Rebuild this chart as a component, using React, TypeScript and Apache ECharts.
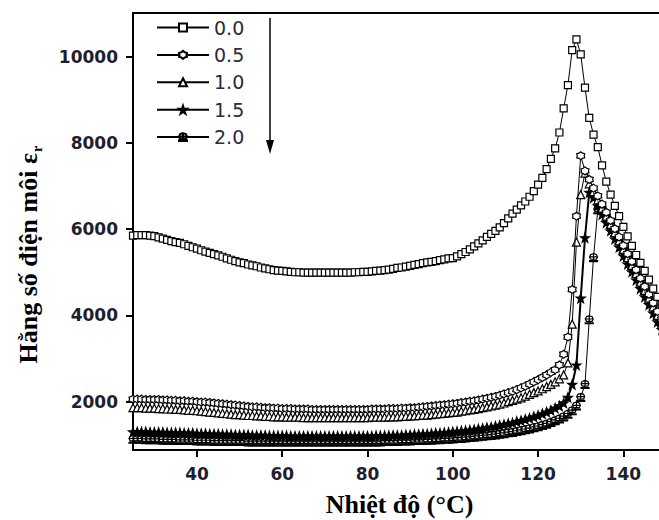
import React, { useEffect, useRef } from "react";
import * as echarts from "echarts";

const temps = [
  25, 26, 27, 28, 29, 30, 31, 32, 33, 34, 35, 36, 37, 38, 39, 40, 41, 42, 43, 44,
  45, 46, 47, 48, 49, 50, 51, 52, 53, 54, 55, 56, 57, 58, 59, 60, 61, 62, 63, 64,
  65, 66, 67, 68, 69, 70, 71, 72, 73, 74, 75, 76, 77, 78, 79, 80, 81, 82, 83, 84,
  85, 86, 87, 88, 89, 90, 91, 92, 93, 94, 95, 96, 97, 98, 99, 100, 101, 102, 103, 104,
  105, 106, 107, 108, 109, 110, 111, 112, 113, 114, 115, 116, 117, 118, 119, 120, 121, 122, 123, 124,
  125, 126, 127, 128, 129, 130, 131, 132, 133, 134, 135, 136, 137, 138, 139, 140, 141, 142, 143, 144,
  145, 146, 147, 148, 149, 150,
];

const seriesNames = ["0.0", "0.5", "1.0", "1.5", "2.0"];

const eps00 = [
  5850, 5860, 5860, 5860, 5850, 5840, 5810, 5780, 5750, 5720,
  5700, 5680, 5650, 5610, 5580, 5550, 5510, 5480, 5450, 5420,
  5390, 5360, 5320, 5290, 5260, 5230, 5210, 5180, 5160, 5140,
  5110, 5090, 5070, 5050, 5040, 5030, 5020, 5010, 5000, 5000,
  4990, 4990, 4990, 4990, 4990, 4990, 4990, 4990, 4990, 4990,
  4990, 4990, 5000, 5000, 5010, 5010, 5020, 5030, 5040, 5050,
  5060, 5080, 5100, 5110, 5130, 5150, 5170, 5190, 5210, 5230,
  5240, 5260, 5280, 5300, 5320, 5330, 5370, 5420, 5470, 5530,
  5600, 5670, 5740, 5820, 5890, 5960, 6040, 6140, 6250, 6360,
  6450, 6550, 6640, 6750, 6880, 7030, 7190, 7390, 7630, 7870,
  8240, 8800, 9340, 10150, 10400, 10050, 9280, 8580, 8190, 7900,
  7480, 7100, 6800, 6540, 6300, 6050, 5830, 5610, 5400, 5220,
  5030, 4830, 4620, 4430, 4250, 4080,
];

const eps05 = [
  2060, 2060, 2060, 2050, 2050, 2050, 2050, 2040, 2040, 2030,
  2030, 2020, 2020, 2010, 2010, 2000, 1990, 1990, 1980, 1970,
  1960, 1950, 1940, 1930, 1920, 1910, 1900, 1890, 1880, 1880,
  1870, 1860, 1860, 1850, 1850, 1840, 1840, 1840, 1830, 1830,
  1830, 1830, 1820, 1820, 1820, 1820, 1820, 1820, 1820, 1820,
  1820, 1820, 1820, 1820, 1820, 1820, 1830, 1830, 1830, 1830,
  1840, 1840, 1840, 1850, 1850, 1860, 1860, 1870, 1880, 1890,
  1900, 1910, 1920, 1930, 1940, 1950, 1960, 1980, 1990, 2010,
  2020, 2040, 2060, 2080, 2100, 2120, 2150, 2180, 2210, 2240,
  2280, 2320, 2360, 2410, 2460, 2510, 2560, 2620, 2680, 2740,
  2850, 3100, 3500, 4600, 6300, 7700, 7350, 7150, 6950, 6770,
  6580, 6390, 6200, 6010, 5820, 5620, 5430, 5250, 5060, 4860,
  4670, 4490, 4290, 4090, 3910, 3720,
];

const eps10 = [
  1860, 1860, 1860, 1850, 1850, 1850, 1840, 1840, 1830, 1830,
  1820, 1820, 1810, 1800, 1800, 1790, 1780, 1770, 1760, 1750,
  1740, 1730, 1720, 1710, 1700, 1700, 1690, 1680, 1680, 1670,
  1670, 1660, 1660, 1650, 1650, 1650, 1640, 1640, 1640, 1640,
  1630, 1630, 1630, 1630, 1630, 1630, 1630, 1630, 1630, 1630,
  1630, 1630, 1630, 1630, 1630, 1630, 1640, 1640, 1640, 1640,
  1650, 1650, 1650, 1660, 1660, 1670, 1670, 1680, 1690, 1690,
  1700, 1710, 1720, 1730, 1740, 1750, 1760, 1780, 1790, 1810,
  1820, 1840, 1860, 1880, 1900, 1920, 1940, 1970, 2000, 2030,
  2060, 2090, 2130, 2170, 2210, 2250, 2300, 2350, 2400, 2460,
  2530, 2620, 2900, 3800, 5700, 6800, 7300, 7050, 6870, 6680,
  6490, 6300, 6110, 5920, 5730, 5530, 5340, 5160, 4970, 4770,
  4580, 4400, 4200, 4000, 3820, 3630,
];

const eps15 = [
  1300, 1300, 1300, 1300, 1290, 1290, 1290, 1290, 1280, 1280,
  1280, 1280, 1270, 1270, 1270, 1260, 1260, 1260, 1250, 1250,
  1250, 1240, 1240, 1240, 1230, 1230, 1230, 1230, 1220, 1220,
  1220, 1220, 1210, 1210, 1210, 1210, 1210, 1200, 1200, 1200,
  1200, 1200, 1200, 1200, 1200, 1200, 1200, 1200, 1200, 1200,
  1200, 1200, 1200, 1200, 1200, 1200, 1200, 1210, 1210, 1210,
  1210, 1220, 1220, 1220, 1230, 1230, 1240, 1240, 1250, 1250,
  1260, 1270, 1270, 1280, 1290, 1300, 1310, 1320, 1330, 1340,
  1350, 1370, 1380, 1400, 1410, 1430, 1450, 1470, 1490, 1510,
  1540, 1560, 1590, 1620, 1650, 1680, 1720, 1760, 1800, 1850,
  1900, 1970, 2100, 2400, 2850, 4400, 5800, 6850, 6730, 6540,
  6340, 6150, 5960, 5770, 5580, 5380, 5190, 5010, 4820, 4620,
  4430, 4250, 4050, 3850, 3670, 3480,
];

const eps20 = [
  1130, 1130, 1130, 1120, 1120, 1120, 1120, 1110, 1110, 1110,
  1110, 1100, 1100, 1100, 1100, 1090, 1090, 1090, 1090, 1080,
  1080, 1080, 1080, 1080, 1080, 1080, 1080, 1070, 1070, 1070,
  1070, 1070, 1070, 1070, 1070, 1070, 1070, 1070, 1070, 1070,
  1070, 1070, 1070, 1070, 1070, 1070, 1070, 1070, 1070, 1070,
  1070, 1070, 1070, 1070, 1070, 1070, 1070, 1070, 1070, 1080,
  1080, 1080, 1080, 1090, 1090, 1090, 1100, 1100, 1100, 1110,
  1110, 1120, 1120, 1130, 1130, 1140, 1150, 1150, 1160, 1170,
  1180, 1190, 1200, 1210, 1220, 1230, 1250, 1260, 1280, 1290,
  1310, 1330, 1350, 1370, 1400, 1420, 1450, 1480, 1520, 1560,
  1600, 1650, 1710, 1790, 1900, 2100, 2400, 3900, 5340, 6450,
  6480, 6300, 6110, 5920, 5730, 5540, 5350, 5170, 4980, 4780,
  4600, 4410, 4220, 4020, 3840, 3650,
];

const xTicks = [40, 60, 80, 100, 120, 140];
const yTicks = [2000, 4000, 6000, 8000, 10000];

const SYM_HEX =
  "path://M10,0 L13.75,3.5 L18.66,5 L17.5,10 L18.66,15 L13.75,16.5 L10,20 L6.25,16.5 L1.34,15 L2.5,10 L1.34,5 L6.25,3.5 Z";
const SYM_STAR =
  "path://M10,0 L12.35,6.76 L19.51,6.91 L13.8,11.24 L15.88,18.09 L10,14 L4.12,18.09 L6.2,11.24 L0.49,6.91 L7.65,6.76 Z";
const SYM_CROWN =
  "path://M10,1 L15,3 L17,8 L15,13 L5,13 L3,8 L5,3 Z M10,1 L10,13 M3,8 L17,8 M3,18 L17,18 L17,16 L3,16 Z";

export default function App() {
  const ref = useRef<HTMLDivElement>(null);

  useEffect(() => {
    if (!ref.current) return;
    const chart = echarts.init(ref.current, null, { renderer: "svg" });

    const allData = [eps00, eps05, eps10, eps15, eps20];
    const symbols = ["rect", SYM_HEX, "triangle", SYM_STAR, SYM_CROWN];
    const sizes = [7, 8, 8, 9, 8];
    const fills = ["#fff", "#fff", "#fff", "#000", "#fff"];
    const widths = [1, 1, 1, 2, 1];

    const series = seriesNames.map((name, k) => ({
      name,
      type: "line",
      data: temps.map((t, i) => [t, allData[k][i]]),
      symbol: symbols[k],
      symbolSize: sizes[k],
      showAllSymbol: true,
      lineStyle: { color: "#000", width: widths[k] },
      itemStyle: { color: fills[k], borderColor: "#000", borderWidth: 1.2 },
      z: 10 - k,
    }));

    const labelFont = {
      fontFamily: "DejaVu Sans",
      fontWeight: "bold",
      fontSize: 17,
      color: "#1e1e2e",
    };

    chart.setOption({
      animation: false,
      grid: {
        left: 133,
        top: 13,
        width: 533,
        height: 437,
        show: true,
        borderColor: "#000",
        borderWidth: 2,
        backgroundColor: "transparent",
        outerBoundsMode: "none",
      },
      legend: {
        orient: "vertical",
        left: 151,
        top: 13,
        itemWidth: 52,
        itemHeight: 10,
        itemGap: 8.4,
        data: seriesNames,
        textStyle: { fontFamily: "DejaVu Sans", fontSize: 19, color: "#2a2a3a" },
      },
      xAxis: {
        type: "value",
        min: 25,
        max: 150,
        splitLine: { show: false },
        axisLine: { show: true, lineStyle: { color: "#000", width: 2 } },
        axisTick: {
          show: true,
          length: 7,
          lineStyle: { color: "#000", width: 2 },
          customValues: xTicks,
        },
        axisLabel: { ...labelFont, margin: 15, customValues: xTicks },
        name: "Nhiệt độ (°C)",
        nameLocation: "middle",
        nameGap: 41,
        nameTextStyle: {
          fontFamily: "Liberation Serif",
          fontWeight: "bold",
          fontSize: 26,
          color: "#000",
        },
      },
      yAxis: {
        type: "value",
        min: 880,
        max: 11010,
        splitLine: { show: false },
        axisLine: { show: true, lineStyle: { color: "#000", width: 2 } },
        axisTick: {
          show: true,
          length: 7,
          lineStyle: { color: "#000", width: 2 },
          customValues: yTicks,
        },
        axisLabel: {
          ...labelFont,
          margin: 15,
          customValues: yTicks,
          formatter: (v: number) => String(Math.round(v)),
        },
      },
      graphic: [
        {
          type: "line",
          shape: { x1: 270, y1: 18, x2: 270, y2: 146 },
          style: { stroke: "#000", lineWidth: 1.5 },
        },
        {
          type: "polygon",
          shape: { points: [[266, 140], [274, 140], [270, 154]] },
          style: { fill: "#000" },
        },
        {
          type: "text",
          x: 28,
          y: 153,
          rotation: Math.PI / 2,
          style: {
            text: "Hằng số điện môi ε",
            font: "bold 26px 'Liberation Serif'",
            fill: "#000",
            align: "right",
            verticalAlign: "middle",
          },
        },
        {
          type: "text",
          x: 37,
          y: 152,
          rotation: Math.PI / 2,
          style: {
            text: "r",
            font: "bold 14px 'Liberation Serif'",
            fill: "#000",
            align: "left",
            verticalAlign: "middle",
          },
        },
      ],
      series,
    });

    return () => chart.dispose();
  }, []);

  return (
    <div
      style={{ position: "absolute", left: 0, top: 0, width: 659, height: 520, overflow: "hidden", background: "#fff" }}
    >
      <div ref={ref} style={{ width: 659, height: 520 }} />
    </div>
  );
}
